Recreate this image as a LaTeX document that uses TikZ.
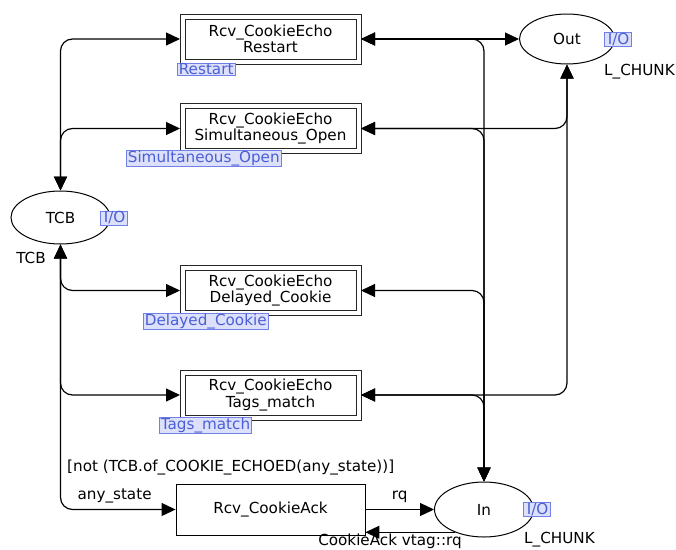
\documentclass[tikz,border=0pt]{standalone}
\usepackage{fontspec}
\setmainfont{DejaVu Sans}
\usetikzlibrary{arrows.meta,shapes.geometric}
\definecolor{lblfill}{RGB}{220,224,250}
\definecolor{lbldraw}{RGB}{112,128,232}
\definecolor{lbltext}{RGB}{74,95,214}
\begin{document}
\begin{tikzpicture}[x=1pt,y=-1pt,
  every node/.style={font=\fontsize{15.2}{16.5}\selectfont, inner sep=0pt},
  subst/.style={draw=black!85, line width=0.9pt,
    minimum width=171pt, minimum height=40pt, align=center, outer sep=5pt,
    append after command={
      (\tikzlastnode.north west) edge[draw=black!85, line width=0.9pt, to path={rectangle (\tikztotarget)}]
      (\tikzlastnode.south east)}},
  trans/.style={draw, line width=0.9pt, minimum width=189pt, minimum height=51pt},
  place/.style={draw, ellipse, line width=1pt},
  tag/.style={draw=lbldraw, fill=lblfill, text=lbltext, line width=0.7pt,
    inner xsep=1.5pt, inner ysep=0.5pt, anchor=west},
  arc/.style={line width=1.2pt, rounded corners=12pt},
  tip/.style={-{Triangle[length=14pt,width=13pt]}},
  tips/.style={{Triangle[length=14pt,width=13pt]}-{Triangle[length=14pt,width=13pt]}},
  inscr/.style={text=black}
]
\useasboundingbox (0,0) rectangle (676,549);
% transitions
\node[subst] (R) at (270.5,39) {Rcv\_CookieEcho\\Restart};
\node[subst] (SO) at (270.5,128.5) {Rcv\_CookieEcho\\Simultaneous\_Open};
\node[subst] (DC) at (270.5,290.5) {Rcv\_CookieEcho\\Delayed\_Cookie};
\node[subst] (TM) at (270.5,395) {Rcv\_CookieEcho\\Tags\_match};
\node[trans] (Ack) at (270.5,509.5) {Rcv\_CookieAck};
% places
\node[place, minimum width=99pt, minimum height=53pt] (TCB) at (60.5,217.5) {TCB};
\node[place, minimum width=95pt, minimum height=50pt] (Out) at (567,39) {Out};
\node[place, minimum width=99pt, minimum height=55pt] (In) at (484,509.5) {In};
% tags
\node[tag] (tR) at (177,69.5) {Restart\hspace{6pt}};
\node[tag] (tSO) at (126,158.5) {Simultaneous\_Open\hspace{6pt}};
\node[tag] (tDC) at (143,321.5) {Delayed\_Cookie\hspace{6pt}};
\node[tag] (tTM) at (159,425.5) {Tags\_match\hspace{3pt}};
\node[tag] (tTCB) at (100,218) {\hspace{2pt}I/O\hspace{3pt}};
\node[tag] (tOut) at (604,39.5) {\hspace{2pt}I/O\hspace{3pt}};
\node[tag] (tIn) at (523,509.5) {\hspace{2pt}I/O\hspace{3pt}};
% type labels
\node (cTCB) at (31,258) {TCB};
\node[anchor=west] (cOut) at (604,72) {L\_CHUNK};
\node[anchor=west] (cIn) at (524,540) {L\_CHUNK};
% arcs left
\draw[arc,tips] (TCB.north) |- (R.west);
\draw[arc,tips] (TCB.north) |- (SO.west);
\draw[arc,tips] (TCB.south) |- (DC.west);
\draw[arc,tips] (TCB.south) |- (TM.west);
\draw[arc,tip] (TCB.south) |- (Ack.west) node[pos=0.735, above=6pt, inscr] (lany) {any\_state};
% arcs right
\draw[arc,tips] (R.east) -- (Out.west);
\draw[arc,tips] (R.east) -| (In.north);
\draw[arc,tips] (SO.east) -| (In.north);
\draw[arc,tips] (DC.east) -| (In.north);
\draw[arc,tips] (TM.east) -| (In.north);
\draw[arc,tips] (SO.east) -| (Out.south);
\draw[arc,tips] (TM.east) -| (Out.south);
\draw[arc,tip] (Ack.east) -- (In.west) node[midway, above=6pt, inscr] (lrq) {rq};
\draw[arc,tip] (In.218) -- (Ack.east |- In.218);
\node[anchor=base] (lret) at (390,545) {CookieAck vtag::rq};
% guard
\node[anchor=west] (guard) at (67,468) {[not (TCB.of\_COOKIE\_ECHOED(any\_state))]};
\end{tikzpicture}
\end{document}
